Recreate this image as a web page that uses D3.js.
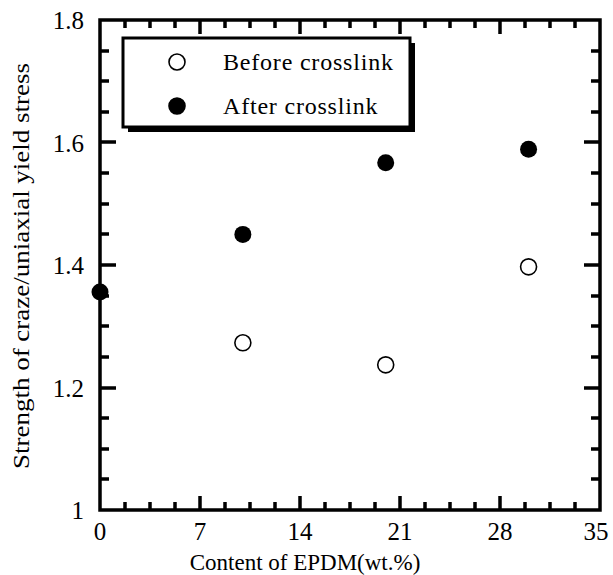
<!DOCTYPE html>
<html>
<head>
<meta charset="utf-8">
<script src="https://cdn.jsdelivr.net/npm/d3@7"></script>
<style>
  body { margin: 0; background: #fff; }
  svg { display: block; }
</style>
</head>
<body>
<svg id="chart" width="613" height="575"></svg>
<script>
// data
const content = [0, 10, 20, 30]
const afterCross = [1.356, 1.45, 1.567, 1.589]
const beforeContent = [10, 20, 30]
const beforeCross = [1.273, 1.237, 1.397]

const xMajor = [0, 7, 14, 21, 28, 35]
const yMajor = [1, 1.2, 1.4, 1.6, 1.8]

const legendLabels = ['Before crosslink', 'After crosslink']

const serif = 'Liberation Serif'
const grid = { left: 100, right: 600, top: 20, bottom: 510 }

const svg = d3.select('#chart')

let x = d3.scaleLinear().domain([0, 35]).range([grid.left, grid.right])
let y = d3.scaleLinear().domain([1, 1.8]).range([grid.bottom, grid.top])

let near = (a, b) => Math.abs(a - b) < 1e-6
let xMinor = d3.range(0, 35.001, 1.75).filter(v => !xMajor.some(m => near(m, v)))
let yMinor = d3.range(1, 1.8001, 0.05).filter(v => !yMajor.some(m => near(m, v)))

let fmt = d => String(+d.toFixed(1))

// frame and inward ticks as one path
let p = d3.path()
p.rect(grid.left, grid.top, grid.right - grid.left, grid.bottom - grid.top)
let addX = (v, len) => {
  let px = Math.round(x(v))
  p.moveTo(px, grid.bottom); p.lineTo(px, grid.bottom - len)
  p.moveTo(px, grid.top); p.lineTo(px, grid.top + len)
}
let addY = (v, len) => {
  let py = Math.round(y(v))
  p.moveTo(grid.left, py); p.lineTo(grid.left + len, py)
  p.moveTo(grid.right, py); p.lineTo(grid.right - len, py)
}
xMajor.forEach(v => addX(v, 14))
xMinor.forEach(v => addX(v, 8))
yMajor.forEach(v => addY(v, 16))
yMinor.forEach(v => addY(v, 9))

svg.append('path')
  .attr('d', p.toString())
  .attr('fill', 'none')
  .attr('stroke', '#000')
  .attr('stroke-width', 3.5)

// tick labels
svg.append('g').selectAll('text')
  .data(yMajor)
  .join('text')
  .attr('x', grid.left - 16)
  .attr('y', d => y(d) + 9)
  .attr('text-anchor', 'end')
  .attr('font-family', serif)
  .attr('font-size', 25)
  .text(fmt)

svg.append('g').selectAll('text')
  .data(xMajor)
  .join('text')
  .attr('x', d => x(d) - (d === 35 ? 4 : 0))
  .attr('y', grid.bottom + 30)
  .attr('text-anchor', 'middle')
  .attr('font-family', serif)
  .attr('font-size', 25)
  .text(d => d)

// axis titles
svg.append('text')
  .attr('x', 305).attr('y', 570)
  .attr('text-anchor', 'middle')
  .attr('font-family', serif)
  .attr('font-size', 23)
  .text('Content of EPDM(wt.%)')

svg.append('text')
  .attr('transform', 'translate(29,266) rotate(-90)')
  .attr('text-anchor', 'middle')
  .attr('font-family', serif)
  .attr('font-size', 23)
  .attr('textLength', 406).attr('lengthAdjust', 'spacingAndGlyphs')
  .text('Strength of craze/uniaxial yield stress')

// legend with drop shadow
let lg = { x: 123, y: 38, w: 287, h: 89 }
svg.append('rect')
  .attr('x', lg.x + 5).attr('y', lg.y + 5)
  .attr('width', lg.w).attr('height', lg.h)
  .attr('fill', '#000')
svg.append('rect')
  .attr('x', lg.x).attr('y', lg.y)
  .attr('width', lg.w).attr('height', lg.h)
  .attr('fill', '#fff').attr('stroke', '#000').attr('stroke-width', 3)

let legendItems = [
  { label: legendLabels[0], fill: '#fff' },
  { label: legendLabels[1], fill: '#000' },
]
let li = svg.append('g').selectAll('g')
  .data(legendItems)
  .join('g')
  .attr('transform', (d, i) => `translate(0,${62 + i * 44})`)
li.append('circle')
  .attr('cx', 177).attr('cy', 0).attr('r', 8)
  .attr('fill', d => d.fill).attr('stroke', '#000').attr('stroke-width', 1.6)
li.append('text')
  .attr('x', 223).attr('y', 8)
  .attr('font-family', serif)
  .attr('font-size', 24)
  .attr('letter-spacing', 0.8)
  .text(d => d.label)

// data points
svg.append('g').selectAll('circle')
  .data(beforeContent.map((c, i) => [c, beforeCross[i]]))
  .join('circle')
  .attr('cx', d => x(d[0])).attr('cy', d => y(d[1])).attr('r', 8)
  .attr('fill', '#fff').attr('stroke', '#000').attr('stroke-width', 1.6)

svg.append('g').selectAll('circle')
  .data(content.map((c, i) => [c, afterCross[i]]))
  .join('circle')
  .attr('cx', d => x(d[0])).attr('cy', d => y(d[1])).attr('r', 8.5)
  .attr('fill', '#000')
</script>
</body>
</html>
